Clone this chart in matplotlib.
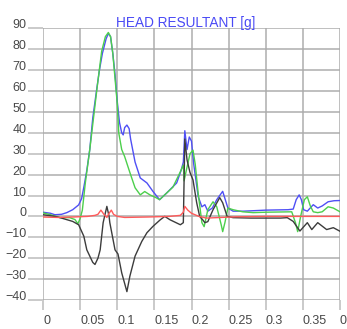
import matplotlib
matplotlib.use("Agg")
import matplotlib.pyplot as plt

plt.rcParams['font.family'] = ['Liberation Sans', 'DejaVu Sans']

# time [s] / acceleration [g]
blue_t = [0.000, 0.010, 0.016, 0.025, 0.032, 0.040, 0.048, 0.052, 0.055, 0.059, 0.063, 0.067,
          0.072, 0.076, 0.080, 0.085, 0.088, 0.091, 0.094, 0.097, 0.100, 0.103, 0.106, 0.108,
          0.110, 0.113, 0.116, 0.118, 0.124, 0.131, 0.140, 0.148, 0.157, 0.166, 0.180, 0.186,
          0.189, 0.191, 0.194, 0.197, 0.200, 0.203, 0.209, 0.214, 0.218, 0.222, 0.228, 0.234,
          0.242, 0.249, 0.256, 0.270, 0.300, 0.330, 0.337, 0.341, 0.345, 0.348, 0.351, 0.356,
          0.364, 0.370, 0.376, 0.384, 0.392, 0.400]
blue_g = [2.0, 1.5, 0.8, 1.0, 1.8, 3.2, 5.5, 8.5, 14, 22, 32, 47,
          60, 70, 78, 85, 87.5, 86, 78, 68, 55, 45, 40, 39,
          42.5, 43.7, 42, 37, 26, 18.4, 16, 12, 8, 11, 16, 22,
          26, 41, 32, 38, 36, 25, 9.5, 4.6, 5.6, 2.5, 4, 8,
          12, 4, 2.5, 2.5, 3.0, 3.2, 3.5, 8, 10.3, 8, 3.2, 2.5,
          5.6, 4, 5, 7, 7.5, 7.6]

green_t = [0.000, 0.010, 0.023, 0.036, 0.043, 0.047, 0.050, 0.053, 0.057, 0.063, 0.066, 0.073,
           0.079, 0.084, 0.088, 0.091, 0.094, 0.100, 0.102, 0.106, 0.110, 0.117, 0.124, 0.131,
           0.137, 0.144, 0.152, 0.157, 0.166, 0.175, 0.185, 0.189, 0.190, 0.193, 0.198, 0.202,
           0.205, 0.209, 0.214, 0.217, 0.222, 0.229, 0.234, 0.240, 0.242, 0.245, 0.249, 0.256,
           0.269, 0.283, 0.300, 0.335, 0.340, 0.343, 0.347, 0.352, 0.356, 0.360, 0.364, 0.370,
           0.376, 0.384, 0.391, 0.400]
green_g = [1.7, 0.8, -0.6, -0.6, -1.5, -3.5, -1, 3, 16, 32, 41, 62,
           79, 86, 88, 86, 78, 54, 40, 32, 28.6, 21, 13.7, 10.3,
           11.9, 10.3, 9, 8, 11, 14, 21.4, 24.6, 17, 22, 30, 31.7,
           25, 11, -3, -4.9, 3.2, 7, 4.6, -4, -7.3, -3, 4, 3.2,
           2.2, 1.8, 2, 2.2, -3, -7.3, 0, 8, 9.4, 5, 2.2, 1.8,
           2.2, 4.6, 4, 2.2]

red_t = [0.000, 0.020, 0.040, 0.060, 0.070, 0.074, 0.078, 0.082, 0.086, 0.089, 0.092, 0.095,
         0.100, 0.110, 0.140, 0.170, 0.185, 0.189, 0.191, 0.195, 0.200, 0.210, 0.220, 0.240,
         0.260, 0.300, 0.340, 0.400]
red_g = [-0.3, -0.5, -0.3, 0, 0.5, 1.0, 3, 1, -0.5, 1.5, 3, 1,
         0, -0.5, -0.3, 0, 0.5, 2, 4.8, 3, 1.5, 0, -0.8, -0.5,
         -0.2, 0, 0, 0]

black_t = [0.000, 0.016, 0.023, 0.040, 0.048, 0.055, 0.059, 0.067, 0.070, 0.074, 0.077, 0.081,
           0.086, 0.089, 0.090, 0.097, 0.101, 0.106, 0.113, 0.117, 0.124, 0.133, 0.140, 0.148,
           0.158, 0.164, 0.171, 0.185, 0.189, 0.191, 0.194, 0.198, 0.202, 0.207, 0.211, 0.215,
           0.218, 0.222, 0.229, 0.238, 0.242, 0.248, 0.256, 0.280, 0.320, 0.329, 0.337, 0.346,
           0.356, 0.362, 0.370, 0.382, 0.391, 0.400]
black_g = [0.8, 0, -0.6, -2.4, -4, -9.5, -16, -22, -23, -20, -16, -3,
           4.8, 0, -3, -16, -18, -27, -36, -28.6, -19, -12, -7.8, -4.8,
           -1.6, 0, -1.6, -4, -3, 37, 27, 21, 17.5, 6.5, 0, -1.6,
           -3, -2.5, 3.2, 9, 6.5, 0, -0.6, -0.8, -0.8, -0.6, -2.4, -7,
           -3, -6.3, -3, -6.3, -5.4, -7.1]

x_ticks = [0, 0.05, 0.1, 0.15, 0.2, 0.25, 0.3, 0.35, 0.4]
x_labels = ['0', '0.05', '0.1', '0.15', '0.2', '0.25', '0.3', '0.35', '0.4']
y_ticks = list(range(-40, 91, 10))

GRID = '#ababab'
LABEL = '#484848'

fig = plt.figure(figsize=(3.47, 3.29), dpi=100)
ax = fig.add_axes([43 / 347, 1 - 300 / 329, 297 / 347, 271.7 / 329])

ax.plot(blue_t, blue_g, color='#4f4ff5', lw=1.0)
ax.plot(green_t, green_g, color='#4ccf4c', lw=1.0)
ax.plot(black_t, black_g, color='#3c3c3c', lw=1.0)
ax.plot(red_t, red_g, color='#ff5a5a', lw=1.0)

ax.set_xlim(0, 0.4)
ax.set_ylim(-40, 90)
ax.set_xticks(x_ticks)
ax.set_xticklabels(x_labels)
ax.set_yticks(y_ticks)

for s in ax.spines.values():
    s.set_visible(False)
ax.grid(True, color=GRID, lw=1.44, alpha=0.75)
ax.set_axisbelow(True)
ax.tick_params(axis='x', length=7, width=1.44, color='#cbcbcb', labelsize=9, labelcolor=LABEL, pad=4)
ax.tick_params(axis='y', length=11, width=1.44, color='#cbcbcb', labelsize=9, labelcolor=LABEL, pad=1)

# x labels start at the gridline, y labels sit on it
for lab in ax.get_xticklabels():
    lab.set_horizontalalignment('left')
for lab in ax.get_yticklabels():
    lab.set_verticalalignment('baseline')

fig.text(186 / 347, 1 - 27 / 329, 'HEAD RESULTANT [g]', color='#4a4af5',
         fontsize=9.8, ha='center', va='baseline')

fig.savefig('out.png', dpi=100)
